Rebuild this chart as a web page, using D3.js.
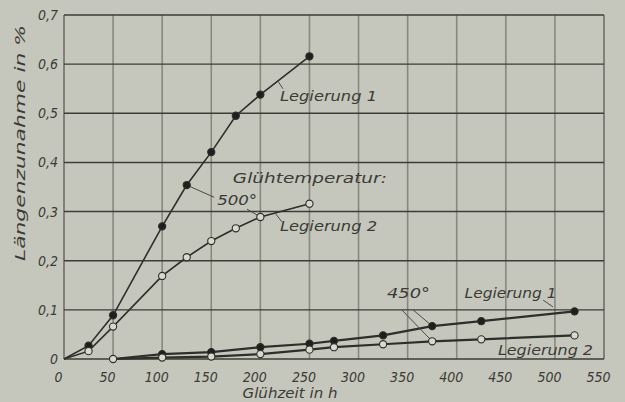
<!DOCTYPE html>
<html><head><meta charset="utf-8">
<script src="https://cdn.jsdelivr.net/npm/d3@7"></script>
<style>
html,body{margin:0;padding:0;background:#c6c7bc;}
svg{display:block;}
text{font-family:'DejaVu Sans Condensed','Liberation Sans Narrow',sans-serif;font-style:italic;fill:#3b3b37;}
</style></head>
<body>
<svg id="chart" width="625" height="402"></svg>
<script>
// ---- data ----
const xTicks = [0,50,100,150,200,250,300,350,400,450,500,550];
const yTicks = [0,0.1,0.2,0.3,0.4,0.5,0.6,0.7];
const yTickLabels = ["0","0,1","0,2","0,3","0,4","0,5","0,6","0,7"];

const hours500 = [0,25,50,100,125,150,175,200,250];
const leg1_500 = [0,0.027,0.089,0.27,0.354,0.421,0.495,0.538,0.616];
const leg2_500 = [0,0.016,0.066,0.169,0.207,0.24,0.266,0.289,0.316];

const hours450 = [50,100,150,200,250,275,325,375,425,520];
const leg1_450 = [0,0.01,0.014,0.024,0.031,0.037,0.048,0.067,0.077,0.097];
const leg2_450 = [0,0.003,0.005,0.01,0.019,0.024,0.03,0.036,0.04,0.048];

// annotations: text, x (h), y (%), width
const labels = [
  {t:"Legierung 1", x:220, y:0.525, w:97},
  {t:"Glühtemperatur:", x:172, y:0.358, w:154},
  {t:"500°", x:156, y:0.313, w:40},
  {t:"Legierung 2", x:220, y:0.26, w:97},
  {t:"450°", x:329, y:0.124, w:43},
  {t:"Legierung 1", x:408, y:0.124, w:92},
  {t:"Legierung 2", x:442, y:0.008, w:95}
];
const leaders = [
  [153,0.329,125,0.354],
  [186.4,0.305,200,0.289],
  [344,0.1,375,0.036],
  [355.5,0.1,375,0.067],
  [218,0.565,223,0.55],
  [215,0.297,222,0.279],
  [488,0.12,498,0.106]
];

// ---- chart ----
const svg = d3.select("#chart");
const x = d3.scaleLinear().domain([0,550]).range([64,604]);
const y = d3.scaleLinear().domain([0,0.7]).range([359,15]);
const FONT = "'DejaVu Sans Condensed','Liberation Sans Narrow',sans-serif";

// vertical grid
svg.append("g").selectAll("line").data(xTicks).join("line")
  .attr("x1",d=>x(d)).attr("x2",d=>x(d)).attr("y1",y(0.7)).attr("y2",y(0))
  .attr("stroke",d=>d===0||d===550?"#6f6f68":"#88887f").attr("stroke-width",1.6);
// horizontal grid
svg.append("g").selectAll("line").data(yTicks).join("line")
  .attr("x1",x(0)).attr("x2",x(550)).attr("y1",d=>y(d)).attr("y2",d=>y(d))
  .attr("stroke","#3c3c38").attr("stroke-width",1.4);

// axis tick labels via d3 axes (no domain/tick lines)
const xAxis = d3.axisBottom(x).tickValues(xTicks).tickSize(0).tickPadding(13).tickFormat(d3.format("d"));
const gx = svg.append("g").attr("transform",`translate(-6,${y(0)})`).call(xAxis);
gx.select(".domain").remove();
gx.selectAll("text").attr("font-size",14).attr("fill","#3b3b37")
  .style("font-family",FONT).style("font-style","italic");

const yAxis = d3.axisLeft(y).tickValues(yTicks).tickSize(0).tickPadding(6).tickFormat((d,i)=>yTickLabels[i]);
const gy = svg.append("g").attr("transform",`translate(${x(0)},0)`).call(yAxis);
gy.select(".domain").remove();
gy.selectAll("text").attr("font-size",14).attr("fill","#3b3b37")
  .style("font-family",FONT).style("font-style","italic");

// axis titles
svg.append("text").attr("x",290).attr("y",398).attr("text-anchor","middle")
  .attr("font-size",14).attr("textLength",95).attr("lengthAdjust","spacingAndGlyphs").text("Glühzeit in h");
svg.append("text").attr("transform","translate(25,143) rotate(-90)").attr("text-anchor","middle")
  .attr("font-size",14).attr("textLength",236).attr("lengthAdjust","spacingAndGlyphs").text("Längenzunahme in %");

// lines
const line = d3.line().x(d=>x(d[0])).y(d=>y(d[1]));
function series(hrs, vals, width){
  const pts = hrs.map((h,i)=>[h,vals[i]]);
  svg.append("path").datum(pts).attr("d",line).attr("fill","none")
    .attr("stroke","#2e2e2b").attr("stroke-width",width);
  return pts;
}
const p1 = series(hours500, leg1_500, 1.6);
const p2 = series(hours500, leg2_500, 1.6);
const p3 = series(hours450, leg1_450, 2.2);
const p4 = series(hours450, leg2_450, 2.2);

// leaders
svg.append("g").selectAll("line").data(leaders).join("line")
  .attr("x1",d=>x(d[0])).attr("y1",d=>y(d[1])).attr("x2",d=>x(d[2])).attr("y2",d=>y(d[3]))
  .attr("stroke","#4a4a45").attr("stroke-width",1);

// markers
function markers(pts, filled, skipFirst){
  svg.append("g").selectAll("circle").data(skipFirst?pts.slice(1):pts).join("circle")
    .attr("cx",d=>x(d[0])).attr("cy",d=>y(d[1])).attr("r",3.6)
    .attr("fill",filled?"#1f1f1d":"#d8d9cf").attr("stroke","#2e2e2b").attr("stroke-width",1.1);
}
markers(p1,true,true);
markers(p2,false,true);
markers(p3,true,true);
markers(p4,false,false);

// annotation text
svg.append("g").selectAll("text").data(labels).join("text")
  .attr("x",d=>x(d.x)).attr("y",d=>y(d.y)).attr("font-size",14)
  .attr("textLength",d=>d.w).attr("lengthAdjust","spacingAndGlyphs").text(d=>d.t);
</script>
</body></html>
